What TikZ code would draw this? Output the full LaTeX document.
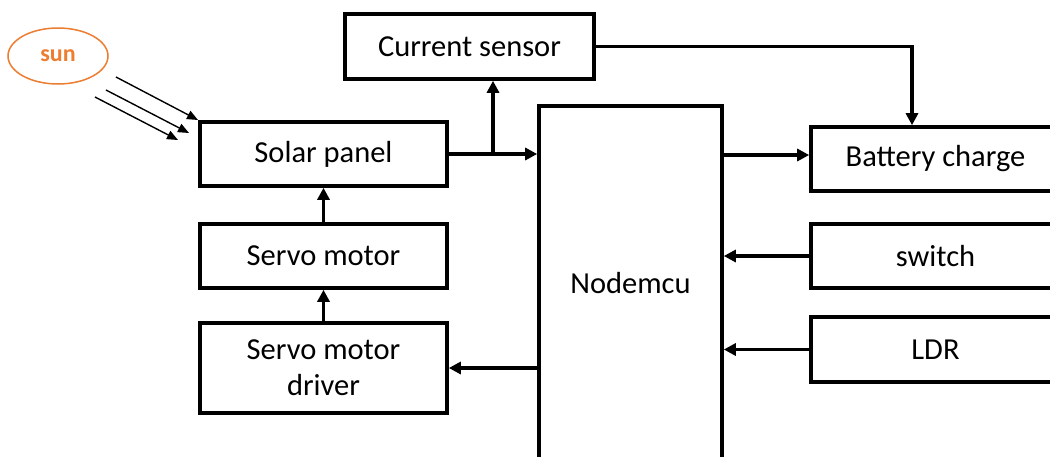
\documentclass[tikz,border=0pt]{standalone}
\usepackage{fontspec}
\setmainfont{Carlito}
\usetikzlibrary{arrows.meta,shapes.geometric}
\definecolor{sunorange}{RGB}{237,125,49}
\tikzset{
  blk/.style={draw, line width=3.6pt, rectangle, inner sep=0pt, align=center, font=\fontsize{30.5}{36}\selectfont},
  arr/.style={line width=3.2pt, -{Triangle[length=12pt,width=12pt]}},
  ray/.style={line width=1.4pt, -{Triangle[length=11pt,width=9pt]}},
}
\begin{document}
\begin{tikzpicture}[x=1pt,y=-1pt]
\useasboundingbox (0,0) rectangle (1050,456);
\clip (0,0) rectangle (1050,456);
\fill[white] (0,0) rectangle (1050,456);
% sun
\node[ellipse, draw=sunorange, line width=1.5pt, minimum width=100pt, minimum height=56pt, inner sep=0pt,
  text=sunorange, font=\fontsize{24}{28}\selectfont\bfseries] (sun) at (58,56) {sun};
\coordinate (r1s) at (116,77);  \coordinate (r1e) at (198,120);
\coordinate (r2s) at (106,90);  \coordinate (r2e) at (189,133);
\coordinate (r3s) at (95,97);   \coordinate (r3e) at (178,140);
\draw[ray] (r1s) -- (r1e);
\draw[ray] (r2s) -- (r2e);
\draw[ray] (r3s) -- (r3e);
% boxes
\node[blk, minimum width=249pt, minimum height=65pt] (cs) at (469.5,46.5) {Current sensor};
\node[blk, minimum width=247pt, minimum height=64pt] (solar) at (323.5,154) {Solar panel};
\node[blk, minimum width=247pt, minimum height=64pt] (servo) at (323.5,256) {Servo motor};
\node[blk, minimum width=247pt, minimum height=90pt] (driver) at (323.5,368) {Servo motor\\driver};
\node[blk, minimum width=183pt, minimum height=354pt] (nodemcu) at (630.5,283) {Nodemcu};
\node[blk, minimum width=249pt, minimum height=64pt] (battery) at (935.5,159) {Battery charge};
\node[blk, minimum width=249pt, minimum height=64pt] (switch) at (935.5,256) {switch};
\node[blk, minimum width=249pt, minimum height=65pt] (ldr) at (935.5,349.5) {LDR};
% connectors
\coordinate (br) at (493,154);
\coordinate (bt) at (912,0);
\coordinate (nb) at (0,155);
\draw[arr] (solar.east) -- (nodemcu.west |- solar.east);
\draw[arr] (br) -- (br |- cs.south);
\draw[arr] (cs.east) -| (battery.north -| bt);
\draw[arr] (nodemcu.east |- nb) -- (battery.west |- nb);
\draw[arr] (switch.west) -- (nodemcu.east |- switch.west);
\draw[arr] (ldr.west) -- (nodemcu.east |- ldr.west);
\draw[arr] (nodemcu.west |- driver.east) -- (driver.east);
\draw[arr] (servo.north) -- (solar.south);
\draw[arr] (driver.north) -- (servo.south);
\end{tikzpicture}
\end{document}
